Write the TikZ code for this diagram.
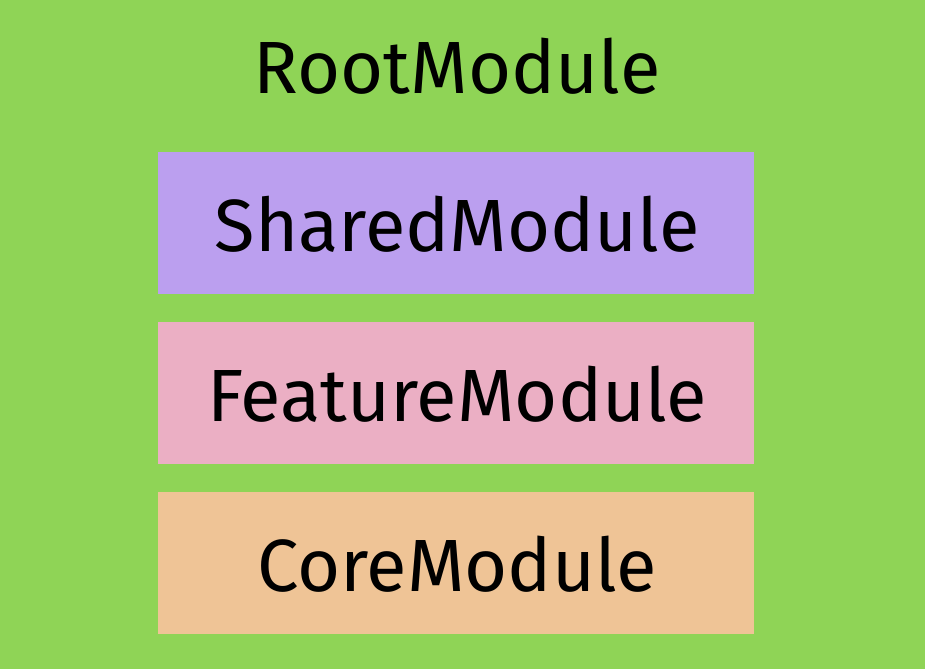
\documentclass[tikz,border=0pt]{standalone}
\usepackage{fontspec}
\setmainfont{Fira Sans}
\definecolor{bggreen}{HTML}{8FD456}
\definecolor{sharedc}{HTML}{BB9FEF}
\definecolor{featurec}{HTML}{EBAFC4}
\definecolor{corec}{HTML}{EFC496}
\tikzset{
  modbox/.style={draw=none, rectangle, minimum width=596pt, minimum height=142pt, inner sep=0pt},
  modlabel/.style={anchor=base, inner sep=0pt, font=\fontsize{74}{88}\selectfont}
}
\begin{document}
\begin{tikzpicture}[x=1pt,y=1pt]
\fill[bggreen] (0,0) rectangle (925,-669);
\useasboundingbox (0,0) rectangle (925,-669);
\node[modbox, fill=sharedc] (shared) at (456,-223) {};
\node[modbox, fill=featurec] (feature) at (456,-393) {};
\node[modbox, fill=corec] (core) at (456,-563) {};
\node[modlabel] (root) at (457,-93) {RootModule};
\node[modlabel] (sharedt) at (457,-251) {SharedModule};
\node[modlabel] (featuret) at (457,-421) {FeatureModule};
\node[modlabel] (coret) at (457,-591) {CoreModule};
\end{tikzpicture}
\end{document}
